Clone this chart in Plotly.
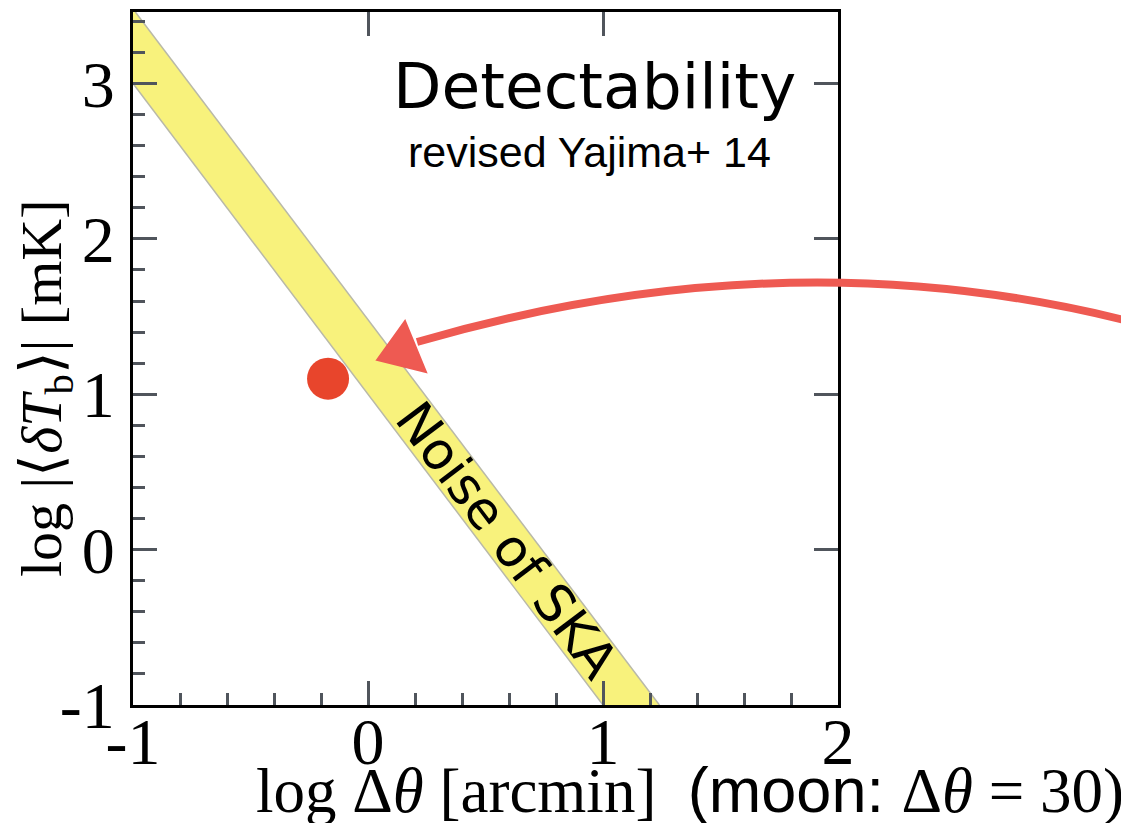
import plotly.graph_objects as go

# ---- data ----
x_ticks = [-1, 0, 1, 2]
x_ticklabels = ["-1", "0", "1", "2"]
y_ticks = [-1, 0, 1, 2, 3]
y_ticklabels = ["-1", "0", "1", "2", "3"]

# SKA noise band (log dT vs log dtheta), edges read at the plot borders
band_lower_x = [-1.0, 1.0]
band_lower_y = [3.0, -1.0]
band_upper_x = [-0.99, 1.24]
band_upper_y = [3.46, -1.0]

# model point
dot_x = [-0.17]
dot_y = [1.10]

# hand-drawn arrow (pixel positions on the slide)
arrow_start = (1132, 322)
arrow_ctrl = (787, 234)
arrow_end = (417, 342)
arrow_head = [(377, 360), (405, 321), (426, 372)]

OFF = 8  # page body margin
W, H = 1129 - OFF, 823 - OFF
ML, MT = 133 - OFF, 12 - OFF
PW, PH = 705, 693
MR, MB = W - ML - PW, H - MT - PH


def px2paper(px, py):
    # px, py: pixel positions in the reference picture
    return ((px - OFF - ML) / PW, (MT + PH - (py - OFF)) / PH)


fig = go.Figure()

# band polygon
poly_x = band_lower_x + band_upper_x[::-1] + [-1.0, band_lower_x[0]]
poly_y = band_lower_y + band_upper_y[::-1] + [3.46, band_lower_y[0]]
fig.add_trace(go.Scatter(x=poly_x, y=poly_y, mode="lines", fill="toself",
                         fillcolor="#f8f27c", line=dict(width=0),
                         hoverinfo="skip", showlegend=False))
fig.add_trace(go.Scatter(x=band_lower_x, y=band_lower_y, mode="lines",
                         line=dict(color="#b9b9a8", width=1.5),
                         hoverinfo="skip", showlegend=False))
fig.add_trace(go.Scatter(x=band_upper_x, y=band_upper_y, mode="lines",
                         line=dict(color="#b9b9a8", width=1.5),
                         hoverinfo="skip", showlegend=False))

# red dot
fig.add_trace(go.Scatter(x=dot_x, y=dot_y, mode="markers",
                         marker=dict(size=42, color="#e8452c", line=dict(width=0)),
                         showlegend=False))

# invisible trace for mirrored axes
fig.add_trace(go.Scatter(x=[-2], y=[-2], xaxis="x2", yaxis="y2", mode="markers",
                         marker=dict(opacity=0), showlegend=False, hoverinfo="skip"))

tickfont = dict(family="Liberation Serif, Times New Roman, serif", size=66, color="black")

fig.update_layout(
    width=W, height=H,
    margin=dict(l=ML, r=MR, t=MT, b=MB, autoexpand=False),
    paper_bgcolor="white", plot_bgcolor="white",
    xaxis=dict(range=[-1, 2], tickmode="array", tickvals=x_ticks, ticktext=x_ticklabels,
               ticks="inside", ticklen=24, tickwidth=3, tickcolor="#50555c",
               minor=dict(dtick=0.2, ticks="inside", ticklen=12, tickwidth=3, tickcolor="#50555c"),
               showline=True, linecolor="black", linewidth=3, mirror=True, automargin=False,
               showgrid=False, zeroline=False, tickfont=tickfont, ticklabelstandoff=-23),
    yaxis=dict(range=[-1, 3.46], tickmode="array", tickvals=y_ticks, ticktext=y_ticklabels,
               ticks="inside", ticklen=24, tickwidth=3, tickcolor="#50555c",
               minor=dict(dtick=0.2, ticks="inside", ticklen=12, tickwidth=3, tickcolor="#50555c"),
               showline=True, linecolor="black", linewidth=3, mirror=True, automargin=False,
               showgrid=False, zeroline=False, tickfont=tickfont, ticklabelstandoff=2),
    xaxis2=dict(range=[-1, 2], overlaying="x", side="top", tickmode="array", tickvals=x_ticks,
                ticks="inside", ticklen=24, tickwidth=3, tickcolor="#50555c", automargin=False,
                showticklabels=False, showgrid=False, zeroline=False, showline=False),
    yaxis2=dict(range=[-1, 3.46], overlaying="y", side="right", tickmode="array", tickvals=y_ticks,
                ticks="inside", ticklen=24, tickwidth=3, tickcolor="#50555c", automargin=False,
                showticklabels=False, showgrid=False, zeroline=False, showline=False),
    showlegend=False,
)

serif = "Liberation Serif, Times New Roman, serif"
sans = "Liberation Sans, Arial, sans-serif"

annotations = [
    dict(text="Detectability", x=0.964, y=2.98, xref="x", yref="y",
         showarrow=False, font=dict(family="DejaVu Sans", size=63, color="black"),
         xanchor="center", yanchor="middle"),
    dict(text="revised Yajima+ 14", x=0.943, y=2.56, xref="x", yref="y",
         showarrow=False, font=dict(family=sans, size=43, color="black"),
         xanchor="center", yanchor="middle"),
    dict(text="Noise of SKA", x=0.59, y=0.06, xref="x", yref="y", textangle=53,
         showarrow=False, font=dict(family="DejaVu Sans", size=52, color="black"),
         xanchor="center", yanchor="middle"),
]

xt_x, xt_y = px2paper(690, 790)
annotations.append(dict(
    text=("log Δ<i>θ</i> [arcmin]  "
          "<span style='font-family:Liberation Sans, Arial, sans-serif'>(moon: </span>"
          "Δ<i>θ</i> = 30)"),
    x=xt_x, y=xt_y, xref="paper", yref="paper", showarrow=False,
    font=dict(family=serif, size=63, color="black"), xanchor="center", yanchor="middle"))

yt_x, yt_y = px2paper(45, 388)
annotations.append(dict(
    text="log |⟨<i>δT</i><sub>b</sub>⟩| [mK]",
    x=yt_x, y=yt_y, xref="paper", yref="paper", showarrow=False, textangle=-90,
    font=dict(family=serif, size=58, color="black"), xanchor="center", yanchor="middle"))

fig.update_layout(annotations=annotations)

# arrow shapes (paper coords)
s = px2paper(*arrow_start)
c = px2paper(*arrow_ctrl)
e = px2paper(*arrow_end)
fig.add_shape(type="path", xref="paper", yref="paper",
              path=f"M {s[0]},{s[1]} Q {c[0]},{c[1]} {e[0]},{e[1]}",
              line=dict(color="#ee5a52", width=8), layer="above")
hp = [px2paper(*p) for p in arrow_head]
fig.add_shape(type="path", xref="paper", yref="paper",
              path="M " + " L ".join(f"{p[0]},{p[1]}" for p in hp) + " Z",
              fillcolor="#ee5a52", line=dict(color="#ee5a52", width=2), layer="above")

fig.write_html("out.html")
